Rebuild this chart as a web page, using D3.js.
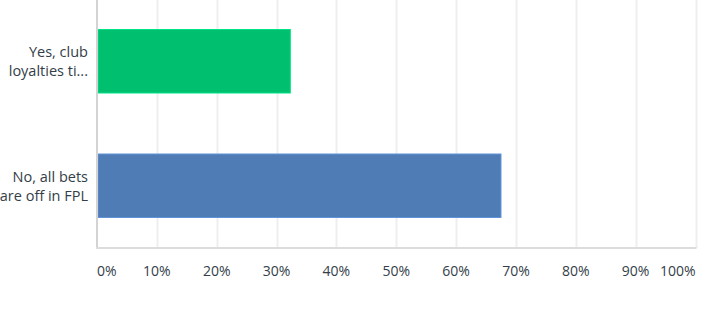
<!DOCTYPE html>
<html>
<head>
<meta charset="utf-8">
<script src="https://cdn.jsdelivr.net/npm/d3@7"></script>
<style>
  body { margin: 0; background: #fff; }
  text { font-family: "Open Sans", Roboto, sans-serif; }
</style>
</head>
<body>
<div id="chart"></div>
<script>
// answers and share of respondents (%)
var categories = [['Yes, club', 'loyalties ti...'], ['No, all bets', 'are off in FPL']];
var values = [32.3, 67.5];
var colors = ['#00bf6f', '#507cb6'];
var tickValues = [0, 10, 20, 30, 40, 50, 60, 70, 80, 90, 100];

var width = 726;
var height = 315;
var margin = { top: 0, left: 97, right: 30, bottom: 67 };

var svg = d3.select('#chart')
  .append('svg')
  .attr('width', width)
  .attr('height', height);

var x = d3.scaleLinear()
  .domain([0, 100])
  .range([margin.left, width - margin.right - 0.5]);

var y = d3.scaleBand()
  .domain(d3.range(categories.length))
  .range([-1, height - margin.bottom])
  .paddingInner(0.49)
  .paddingOuter(0.245);

var plotBottom = height - margin.bottom;

// gridlines
svg.append('g')
  .selectAll('line')
  .data(tickValues.slice(1))
  .enter()
  .append('line')
  .attr('x1', function(d) { return Math.round(x(d)) + 0.5; })
  .attr('x2', function(d) { return Math.round(x(d)) + 0.5; })
  .attr('y1', 0)
  .attr('y2', plotBottom)
  .attr('stroke', '#eeeeee')
  .attr('stroke-width', 2);

// bars
svg.append('g')
  .selectAll('rect')
  .data(values)
  .enter()
  .append('rect')
  .attr('x', x(0) + 1)
  .attr('y', function(d, i) { return y(i); })
  .attr('width', function(d) { return x(d) - x(0) - 1; })
  .attr('height', y.bandwidth())
  .attr('fill', function(d, i) { return colors[i]; })
  .attr('stroke', function(d, i) { return d3.color(colors[i]).brighter(0.5); })
  .attr('stroke-width', 1);

// axis lines
svg.append('line')
  .attr('x1', x(0)).attr('x2', x(0))
  .attr('y1', 0).attr('y2', plotBottom)
  .attr('stroke', '#d3d3d3').attr('stroke-width', 2);

svg.append('line')
  .attr('x1', x(0) - 1).attr('x2', x(100) + 1)
  .attr('y1', plotBottom).attr('y2', plotBottom)
  .attr('stroke', '#dcdcdc').attr('stroke-width', 2);

// category labels
var labels = svg.append('g')
  .selectAll('text')
  .data(categories)
  .enter()
  .append('text')
  .attr('text-anchor', 'end')
  .attr('font-size', 14.5)
  .attr('fill', '#333e48')
  .attr('transform', function(d, i) {
    return 'translate(' + (x(0) - 9) + ',' + (y(i) + y.bandwidth() / 2) + ')';
  });

labels.selectAll('tspan')
  .data(function(d) { return d; })
  .enter()
  .append('tspan')
  .attr('x', 0)
  .attr('y', function(d, i) { return i === 0 ? -4 : 15; })
  .text(function(d) { return d; });

// tick labels
svg.append('g')
  .selectAll('text')
  .data(tickValues)
  .enter()
  .append('text')
  .attr('x', function(d) { return x(d); })
  .attr('y', plotBottom + 28)
  .attr('font-size', 14)
  .attr('fill', '#333e48')
  .attr('text-anchor', function(d, i) {
    if (i === 0) return 'start';
    if (i === tickValues.length - 1) return 'end';
    return 'middle';
  })
  .text(function(d) { return d + '%'; });
</script>
</body>
</html>
